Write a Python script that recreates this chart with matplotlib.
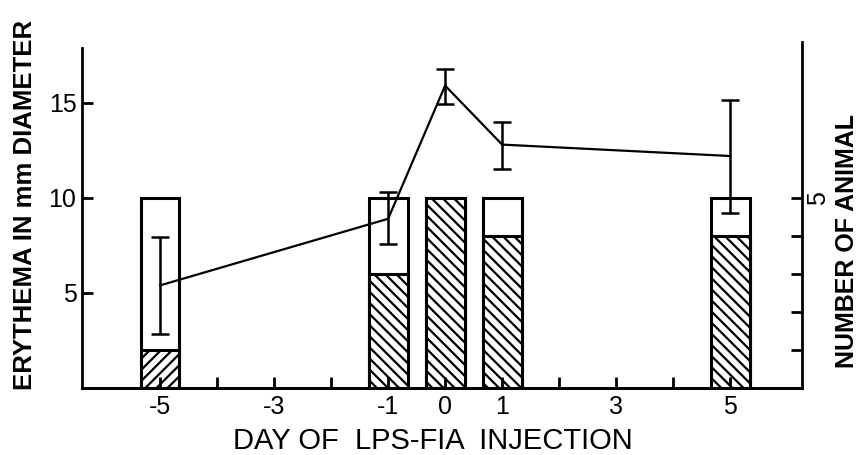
"""Erythema diameter vs. day of LPS-FIA injection, with animal counts."""

import matplotlib
matplotlib.use("Agg")
import matplotlib.pyplot as plt
from matplotlib.ticker import FixedLocator, NullFormatter

FONT = ["Liberation Sans", "DejaVu Sans"]

# bars: number of animals per day (total tested / positive)
bar_days = [-5, -1, 0, 1, 5]
n_total = [5, 5, 5, 5, 5]
n_positive = [1, 3, 5, 4, 4]
bar_hatch = ["///", "\\\\\\", "\\\\\\", "\\\\\\", "\\\\\\"]

# line: mean erythema diameter (mm) with error range
line_days = [-5, -1, 0, 1, 5]
erythema = [5.4, 8.9, 15.9, 12.8, 12.2]
err_low = [2.85, 7.6, 14.95, 11.5, 9.2]
err_high = [7.95, 10.3, 16.75, 14.0, 15.15]

x_major = [-5, -3, -1, 0, 1, 3, 5]
x_minor = [-4, -2, 2, 4]
left_ticks = [5, 10, 15]
right_major = [5]
right_minor = [1, 2, 3, 4]

plt.rcParams["hatch.linewidth"] = 1.6
plt.rcParams["font.family"] = FONT

fig = plt.figure(figsize=(8.58, 4.55), dpi=100)
ax = fig.add_axes([0.0956, 0.147, 0.8391, 0.761])
ax2 = ax.twinx()
ax.set_zorder(ax2.get_zorder() + 1)
ax.patch.set_visible(False)

lw = 2.2
ax2.bar(bar_days, n_total, width=0.68, color="white", edgecolor="black", linewidth=lw)
for d, n, h in zip(bar_days, n_positive, bar_hatch):
    ax2.bar(d, n, width=0.68, color="white", edgecolor="black", linewidth=lw, hatch=h)

yerr = [[m - lo for m, lo in zip(erythema, err_low)],
        [hi - m for m, hi in zip(erythema, err_high)]]
ax.errorbar(line_days, erythema, yerr=yerr, color="black", linewidth=1.6,
            elinewidth=1.8, capsize=6.5, capthick=1.8)

ax.set_xlim(-6.37, 6.26)
ax.set_ylim(0, 18.2)
ax2.set_ylim(0, 9.1)

for a in (ax, ax2):
    a.spines["top"].set_visible(False)
    for s in a.spines.values():
        s.set_linewidth(2.0)
ax.spines["left"].set_bounds(0, 17.9)
ax2.spines["left"].set_visible(False)
ax.spines["right"].set_visible(False)

ax.xaxis.set_major_locator(FixedLocator(x_major))
ax.xaxis.set_minor_locator(FixedLocator(x_minor))
ax.set_xticklabels([str(v) for v in x_major])
ax.yaxis.set_major_locator(FixedLocator(left_ticks))
ax.yaxis.set_minor_locator(FixedLocator([]))
ax2.yaxis.set_major_locator(FixedLocator(right_major))
ax2.yaxis.set_minor_locator(FixedLocator(right_minor))
ax2.yaxis.set_minor_formatter(NullFormatter())

tick_kw = dict(direction="in", length=8, width=2.0, labelsize=18)
ax.tick_params(axis="x", which="both", pad=5, **tick_kw)
ax.tick_params(axis="y", which="both", pad=4, **tick_kw)
ax2.tick_params(axis="y", which="both", pad=3, **tick_kw)
for t in ax2.get_yticklabels():
    t.set_rotation(90)
    t.set_va("center")

ax.set_xlabel("DAY OF  LPS-FIA  INJECTION", fontsize=21)
ax.xaxis.set_label_coords(0.488, -0.112)
ax.set_ylabel("ERYTHEMA IN mm DIAMETER", fontsize=18.5, fontweight="bold")
ax.yaxis.set_label_coords(-0.0625, 0.528)
ax2.set_ylabel("NUMBER OF ANIMAL", fontsize=18, fontweight="bold")
ax2.yaxis.set_label_coords(1.046, 0.425)

fig.savefig("out.png", dpi=100)
